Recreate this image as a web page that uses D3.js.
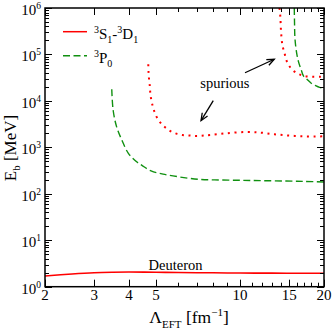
<!DOCTYPE html>
<html>
<head>
<meta charset="utf-8">
<script src="https://cdn.jsdelivr.net/npm/d3@7"></script>
<style>
  body { margin: 0; background: #fff; }
  svg { display: block; font-family: "Liberation Serif", "DejaVu Serif", "Times New Roman", serif; }
</style>
</head>
<body>
<svg id="chart" width="332" height="331"></svg>
<script>
// Lambda_EFT [fm^-1] vs binding energy E_b [MeV]
var deuteronL = [2, 2.5, 3, 3.5, 4, 5, 6, 8, 10, 13, 16, 20];
var deuteronE = [1.70, 1.88, 2.0, 2.05, 2.07, 2.05, 2.02, 1.99, 1.97, 1.96, 1.95, 1.95];

var spuriousLowL = [4.69, 4.70, 4.72, 4.75, 4.77, 4.81, 4.88, 4.97, 5.11, 5.31, 5.57, 5.86, 6.21, 6.58, 6.98, 7.43, 7.87, 8.91, 10.5, 11.9, 13.3, 14.9, 16.8, 18.7, 20];
var spuriousLowE = [61400, 42500, 29600, 20900, 14600, 10400, 7280, 5220, 3820, 2925, 2330, 2005, 1845, 1800, 1755, 1800, 1845, 2005, 2140, 2070, 1910, 1800, 1730, 1715, 1730];

var spuriousHighL = [13.85, 13.95, 14.03, 14.2, 14.45, 14.62, 14.94, 15.45, 16.18, 17.0, 18.2, 19.5, 20];
var spuriousHighE = [1e6, 6.5e5, 3.1e5, 1.55e5, 1.05e5, 7.9e4, 5.9e4, 4.6e4, 3.8e4, 3.45e4, 3.3e4, 3.3e4, 3.3e4];

var p0L = [3.47, 3.51, 3.61, 3.77, 3.98, 4.26, 4.44, 4.8, 5.3, 6, 7.1, 8.5, 10.2, 12, 14.6, 17, 20];
var p0E = [17800, 6300, 2800, 1440, 745, 490, 415, 310, 265, 233, 205, 198, 195, 192, 188, 185, 180];

var p0HighL = [15.65, 15.68, 15.74, 15.95, 16.2, 16.6, 16.9, 17.3, 18, 18.6, 19.3, 20];
var p0HighE = [1e6, 5e5, 2.2e5, 1.1e5, 7e4, 4.5e4, 3.4e4, 3e4, 2.4e4, 2.15e4, 1.95e4, 1.88e4];

var xMajorTicks = [2, 3, 4, 5, 10, 15, 20];
var xMinorTicks = [6, 7, 8, 9, 11, 12, 13, 14, 16, 17, 18, 19];
var yExponents = [0, 1, 2, 3, 4, 5, 6];

var legendItems = [
  { label: [['3', 'sup'], ['S', ''], ['1', 'sub'], ['-', ''], ['3', 'sup'], ['D', ''], ['1', 'sub']], color: 'red', dash: null },
  { label: [['3', 'sup'], ['P', ''], ['0', 'sub']], color: '#109010', dash: '7,3.5' }
];

var svg = d3.select('#chart');
var mLeft = 45, mRight = 324, mTop = 8, mBottom = 286.7;

var x = d3.scaleLog().domain([2, 20]).range([mLeft, mRight]);
var y = d3.scaleLog().domain([1, 1e6]).range([mBottom, mTop]);

var line = d3.line()
  .x(function(d) { return x(d[0]); })
  .y(function(d) { return y(d[1]); })
  .curve(d3.curveCatmullRom.alpha(0.5));

function zip(a, b) { return a.map(function(v, i) { return [v, b[i]]; }); }

svg.append('clipPath').attr('id', 'clip')
  .append('rect').attr('x', mLeft).attr('y', mTop)
  .attr('width', mRight - mLeft).attr('height', mBottom - mTop);

var curves = svg.append('g').attr('clip-path', 'url(#clip)');

function drawCurve(data, color, dash, width) {
  curves.append('path')
    .datum(data)
    .attr('d', line)
    .attr('fill', 'none')
    .attr('stroke', color)
    .attr('stroke-width', width)
    .attr('stroke-dasharray', dash);
}

drawCurve(zip(p0L, p0E), '#109010', '7,3.5', 1.4);
drawCurve(zip(p0HighL, p0HighE), '#109010', '7,3.5', 1.4);
drawCurve(zip(spuriousLowL, spuriousLowE), 'red', '2,4.6', 2);
drawCurve(zip(spuriousHighL, spuriousHighE), 'red', '2,4.6', 2);
drawCurve(zip(deuteronL, deuteronE), 'red', null, 1.6);

// ticks (inside, on all four sides)
var ticks = svg.append('g').attr('stroke', '#000').attr('stroke-width', 1);
xMajorTicks.forEach(function(v) {
  var px = Math.round(x(v)) + 0.5;
  ticks.append('line').attr('x1', px).attr('x2', px).attr('y1', mBottom).attr('y2', mBottom - 7);
  ticks.append('line').attr('x1', px).attr('x2', px).attr('y1', mTop).attr('y2', mTop + 7);
});
xMinorTicks.forEach(function(v) {
  var px = Math.round(x(v)) + 0.5;
  ticks.append('line').attr('x1', px).attr('x2', px).attr('y1', mBottom).attr('y2', mBottom - 4);
  ticks.append('line').attr('x1', px).attr('x2', px).attr('y1', mTop).attr('y2', mTop + 4);
});
yExponents.forEach(function(e) {
  var py = Math.round(y(Math.pow(10, e))) + 0.5;
  ticks.append('line').attr('x1', mLeft).attr('x2', mLeft + 7).attr('y1', py).attr('y2', py);
  ticks.append('line').attr('x1', mRight).attr('x2', mRight - 7).attr('y1', py).attr('y2', py);
  if (e < 6) {
    for (var k = 2; k <= 9; k++) {
      var pm = Math.round(y(k * Math.pow(10, e))) + 0.5;
      ticks.append('line').attr('x1', mLeft).attr('x2', mLeft + 4).attr('y1', pm).attr('y2', pm);
      ticks.append('line').attr('x1', mRight).attr('x2', mRight - 4).attr('y1', pm).attr('y2', pm);
    }
  }
});

svg.append('rect')
  .attr('x', mLeft).attr('y', mTop)
  .attr('width', mRight - mLeft).attr('height', mBottom - mTop)
  .attr('fill', 'none').attr('stroke', '#000').attr('stroke-width', 1.5);

// tick labels
svg.append('g').selectAll('text').data(xMajorTicks).enter()
  .append('text')
  .attr('x', function(d) { return x(d); })
  .attr('y', 300)
  .attr('text-anchor', 'middle')
  .attr('font-size', 15)
  .text(function(d) { return d; });

var yLab = svg.append('g').selectAll('text').data(yExponents).enter()
  .append('text')
  .attr('x', 41)
  .attr('y', function(e) { return y(Math.pow(10, e)) + 7; })
  .attr('text-anchor', 'end')
  .attr('font-size', 15);
yLab.append('tspan').text('10');
yLab.append('tspan').attr('font-size', 9.5).attr('dy', -6).text(function(e) { return e; });

// axis titles
var xt = svg.append('text').attr('x', 189).attr('y', 323).attr('text-anchor', 'middle').attr('font-size', 17.5);
xt.append('tspan').text('\u039B');
xt.append('tspan').attr('font-size', 11).attr('dy', 5).text('EFT');
xt.append('tspan').attr('dy', -5).text(' [fm');
xt.append('tspan').attr('font-size', 11).attr('dy', -7).text('\u22121');
xt.append('tspan').attr('dy', 7).text(']');

var yt = svg.append('text').attr('transform', 'translate(15.5,148) rotate(-90)')
  .attr('text-anchor', 'middle').attr('font-size', 17);
yt.append('tspan').text('E');
yt.append('tspan').attr('font-size', 11).attr('dy', 4).text('b');
yt.append('tspan').attr('dy', -4).text(' [MeV]');

// legend
var legend = svg.append('g');
legendItems.forEach(function(item, i) {
  var ly = 31.7 + i * 24;
  legend.append('line')
    .attr('x1', 63).attr('x2', 87).attr('y1', ly).attr('y2', ly)
    .attr('stroke', item.color).attr('stroke-width', 1.5)
    .attr('stroke-dasharray', item.dash);
  var t = legend.append('text').attr('x', 94).attr('y', ly + 7).attr('font-size', 15);
  var shift = 0;
  item.label.forEach(function(part) {
    var target = part[1] === 'sup' ? -6 : part[1] === 'sub' ? 4 : 0;
    t.append('tspan')
      .attr('dy', target - shift)
      .attr('font-size', part[1] ? 10 : 15)
      .text(part[0]);
    shift = target;
  });
});

// annotations
svg.append('text').attr('x', x(8.83)).attr('y', 87.5).attr('text-anchor', 'middle')
  .attr('font-size', 14.5).text('spurious');
svg.append('text').attr('x', x(4.7)).attr('y', 270).attr('text-anchor', 'start')
  .attr('font-size', 14.5).text('Deuteron');

var arrows = [
  { from: [10.42, 40400], to: [13.27, 78700] },
  { from: [8.02, 10100], to: [7.25, 3750] }
];
arrows.forEach(function(a) {
  var x1 = x(a.from[0]), y1 = y(a.from[1]), x2 = x(a.to[0]), y2 = y(a.to[1]);
  var ang = Math.atan2(y2 - y1, x2 - x1);
  var hl = 8, hw = 0.4;
  svg.append('line').attr('x1', x1).attr('y1', y1).attr('x2', x2).attr('y2', y2)
    .attr('stroke', '#000').attr('stroke-width', 1.3);
  svg.append('path')
    .attr('d', 'M' + (x2 - hl * Math.cos(ang - hw)) + ',' + (y2 - hl * Math.sin(ang - hw)) +
      'L' + x2 + ',' + y2 +
      'L' + (x2 - hl * Math.cos(ang + hw)) + ',' + (y2 - hl * Math.sin(ang + hw)))
    .attr('fill', 'none').attr('stroke', '#000').attr('stroke-width', 1.3);
});
</script>
</body>
</html>
